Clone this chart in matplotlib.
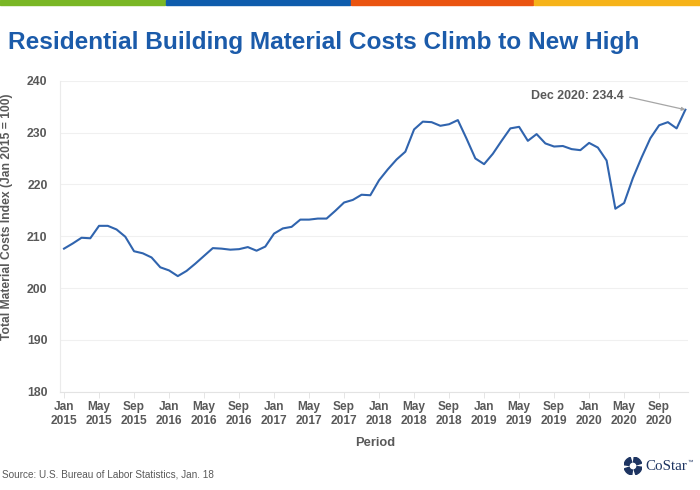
import matplotlib
matplotlib.use("Agg")
import matplotlib.pyplot as plt
from matplotlib.patches import Rectangle, Wedge
import numpy as np

plt.rcParams['font.family'] = ['Liberation Sans', 'DejaVu Sans']

# ---- data (monthly, Jan 2015 - Dec 2020) ----
values_2015 = [207.6, 208.6, 209.7, 209.6, 212.0, 212.0, 211.3, 209.9, 207.1, 206.7, 205.9, 204.0]
values_2016 = [203.4, 202.3, 203.3, 204.7, 206.2, 207.7, 207.6, 207.4, 207.5, 207.9, 207.2, 208.0]
values_2017 = [210.5, 211.5, 211.8, 213.2, 213.2, 213.4, 213.4, 214.9, 216.5, 217.0, 218.0, 217.9]
values_2018 = [220.8, 222.9, 224.8, 226.3, 230.6, 232.1, 232.0, 231.3, 231.6, 232.4, 228.8, 225.0]
values_2019 = [223.9, 225.9, 228.4, 230.8, 231.1, 228.4, 229.7, 227.9, 227.3, 227.4, 226.8, 226.6]
values_2020 = [228.0, 227.1, 224.6, 215.3, 216.4, 221.2, 225.2, 228.9, 231.4, 232.0, 230.8, 234.4]
values = values_2015 + values_2016 + values_2017 + values_2018 + values_2019 + values_2020

tick_labels = ["Jan\n2015", "May\n2015", "Sep\n2015", "Jan\n2016", "May\n2016", "Sep\n2016",
               "Jan\n2017", "May\n2017", "Sep\n2017", "Jan\n2018", "May\n2018", "Sep\n2018",
               "Jan\n2019", "May\n2019", "Sep\n2019", "Jan\n2020", "May\n2020", "Sep\n2020"]
y_ticks = [180, 190, 200, 210, 220, 230, 240]
annotation_text = "Dec 2020: 234.4"

GRAY = "#595959"
BLUE_LINE = "#3064AE"
TITLE_BLUE = "#1B5BAA"

W, H = 700, 490
fig = plt.figure(figsize=(7, 4.9), dpi=100)

def fx(px):
    return px / W

def fy(py):
    return 1 - py / H

# top colour bar
bar_segments = [(0, 165, "#7AB726"), (166, 350, "#0E5CAC"), (351, 533, "#EA5410"), (534, 700, "#F6B319")]
for x0, x1, c in bar_segments:
    fig.patches.append(Rectangle((fx(x0), fy(5)), fx(x1 - x0), 5 / H, transform=fig.transFigure,
                                 color=c, zorder=5))

# title
fig.text(fx(8), fy(42), "Residential Building Material Costs Climb to New High",
         fontsize=17.6, fontweight="bold", color=TITLE_BLUE, ha="left", va="center")

# axes
left, right, top, bottom = 60, 688, 80.7, 391.7
ax = fig.add_axes([fx(left), fy(bottom), fx(right - left), (bottom - top) / H])
x = np.arange(len(values))
ax.plot(x, values, color=BLUE_LINE, lw=1.5, solid_joinstyle="round", zorder=3)

ax.set_ylim(180, 240)
ax.set_xlim(-0.46, 71.3)
ax.set_yticks(y_ticks)
ax.set_yticklabels([str(v) for v in y_ticks])
ax.set_xticks(np.arange(0, 72, 4))
ax.set_xticklabels(tick_labels)
ax.tick_params(axis="y", length=0, pad=9, labelsize=8.8, labelcolor=GRAY)
ax.tick_params(axis="x", length=4, width=0.6, color="#E0E0E0", pad=3, labelsize=8.6, labelcolor=GRAY)
for lab in ax.get_xticklabels() + ax.get_yticklabels():
    lab.set_fontweight("bold")
for lab in ax.get_xticklabels():
    lab.set_linespacing(1.12)

ax.grid(axis="y", color="#F0F0F0", lw=0.8)
for s in ["top", "right"]:
    ax.spines[s].set_visible(False)
ax.spines["left"].set_color("#EBEBEB")
ax.spines["left"].set_linewidth(0.8)
ax.spines["bottom"].set_color("#E3E3E3")
ax.spines["bottom"].set_linewidth(0.8)

# annotation
ax.annotate(annotation_text, xy=(x[-1], values[-1]), xycoords="data",
            xytext=(624, H - 96), textcoords="figure pixels",
            ha="right", va="center", fontsize=8.9, fontweight="bold", color=GRAY,
            arrowprops=dict(arrowstyle="-|>", color="#A6A6A6", lw=0.9, mutation_scale=5,
                            shrinkA=2, shrinkB=0, relpos=(1, 0.5)))

# axis labels
fig.text(fx(375), fy(443), "Period", fontsize=9.3, fontweight="bold", color=GRAY,
         ha="center", va="center")
fig.text(fx(7), fy(217), "Total Material Costs Index (Jan 2015 = 100)", rotation=90,
         fontsize=8.7, fontweight="bold", color=GRAY, ha="center", va="center")

# source
fig.text(fx(2), fy(474), "Source: U.S. Bureau of Labor Statistics, Jan. 18",
         fontsize=7.2, color=GRAY, ha="left", va="center")

# CoStar logo
NAVY = "#1D3461"
lax = fig.add_axes([fx(624), fy(475), fx(18), 18 / H])
lax.set_xlim(-1, 1)
lax.set_ylim(-1, 1)
lax.set_aspect("equal")
lax.axis("off")
for ang in [50, 140, 230, 320]:
    lax.add_patch(Wedge((0, 0), 1.0, ang - 32, ang + 32, width=0.55, color=NAVY))
fig.text(fx(645), fy(466), "CoStar", fontsize=10.8, color=NAVY, ha="left", va="center",
         family=["Liberation Serif", "DejaVu Serif"])
fig.text(fx(687), fy(462), "\u2122", fontsize=4, color=NAVY, ha="left", va="center")

fig.savefig("out.png", dpi=100)
